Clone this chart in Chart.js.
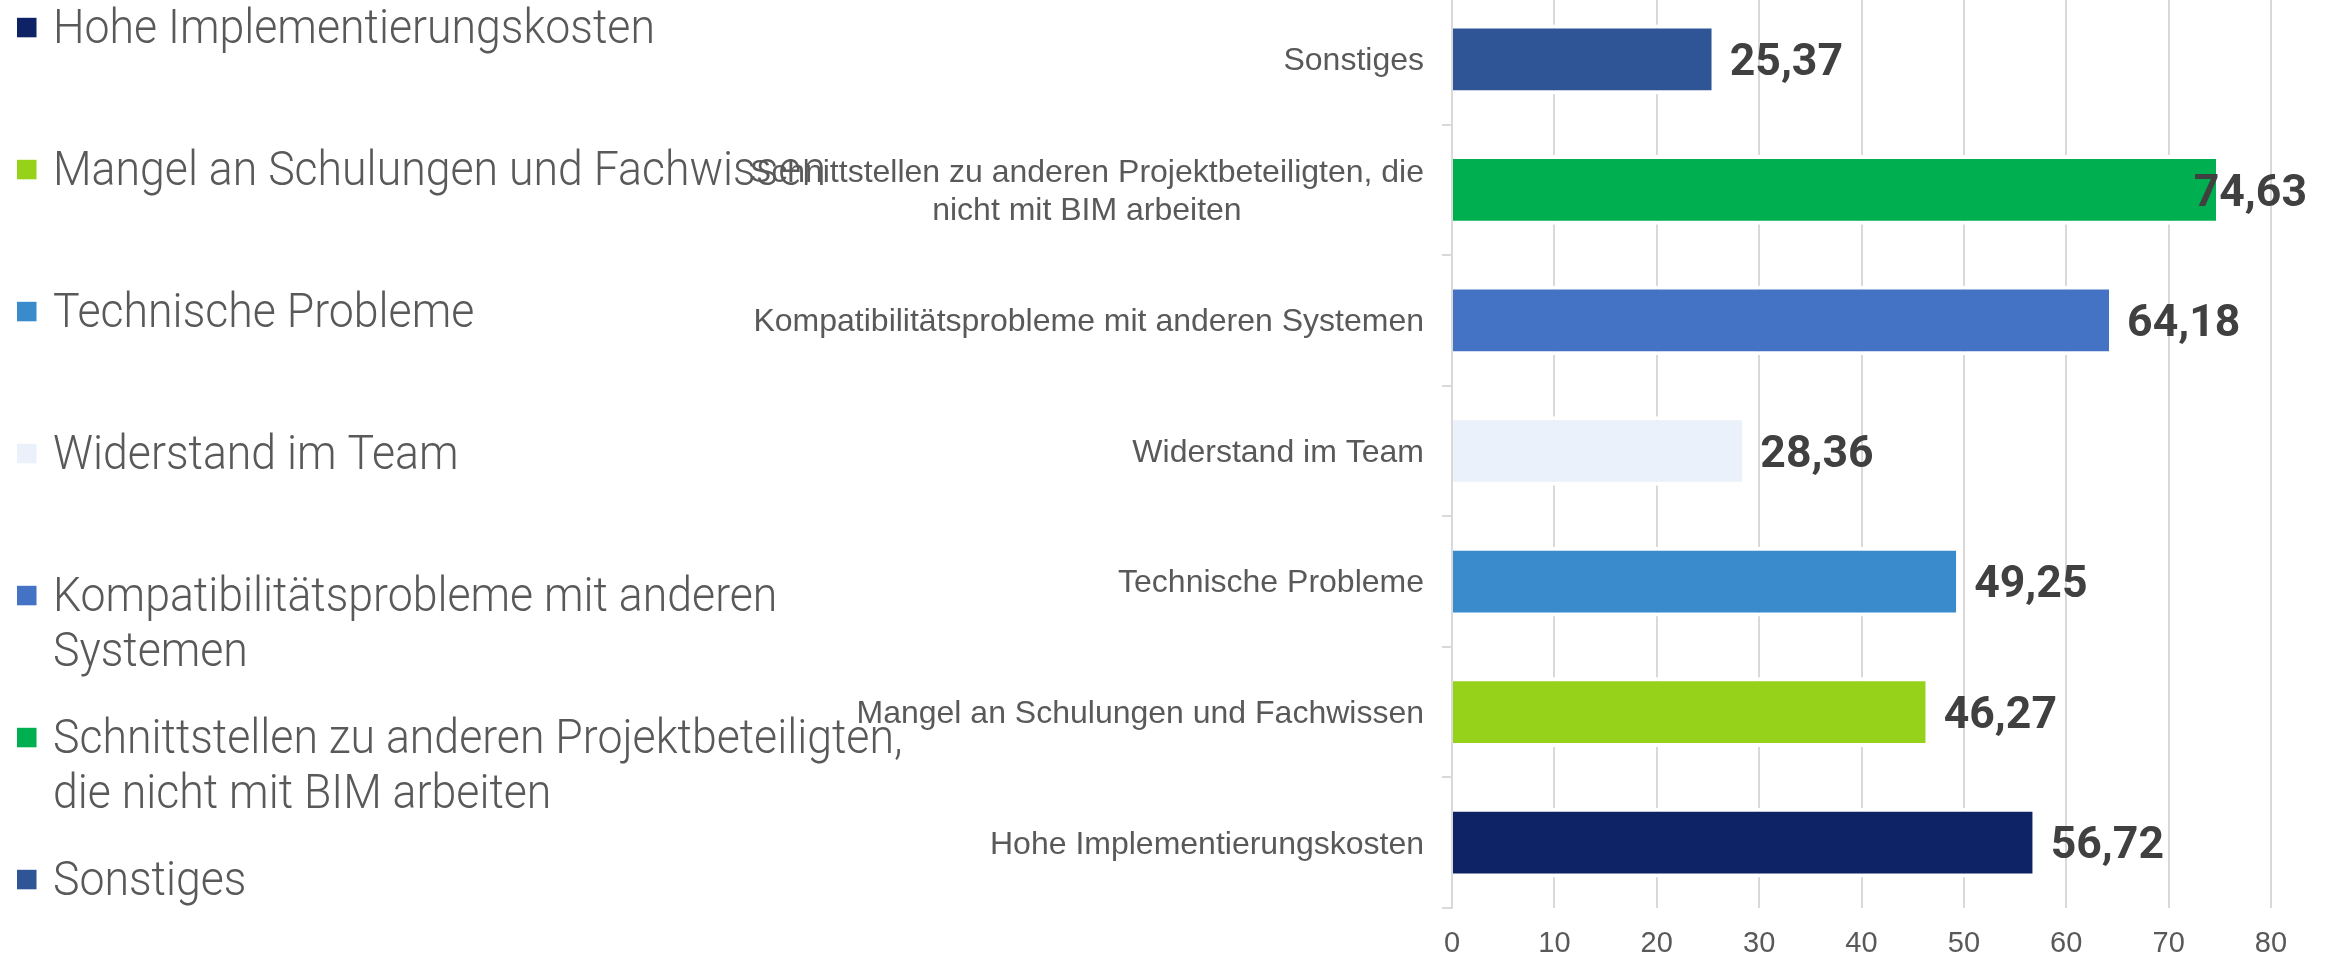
<!DOCTYPE html>
<html><head><meta charset="utf-8">
<script src="https://cdn.jsdelivr.net/npm/chart.js@4/dist/chart.umd.min.js"></script>
<style>
html,body{margin:0;padding:0;background:#fff;overflow:hidden;width:2329px;height:957px;}
#wrap{position:absolute;left:0;top:-6px;width:2329px;height:964px;}
</style></head><body>
<div id="wrap"><canvas id="c" width="2329" height="964"></canvas></div>
<script>
// ---- data ----
const categories = [
  'Sonstiges',
  'Schnittstellen zu anderen Projektbeteiligten, die nicht mit BIM arbeiten',
  'Kompatibilitätsprobleme mit anderen Systemen',
  'Widerstand im Team',
  'Technische Probleme',
  'Mangel an Schulungen und Fachwissen',
  'Hohe Implementierungskosten'
];
const categoryLines = [
  ['Sonstiges'],
  ['Schnittstellen zu anderen Projektbeteiligten, die', 'nicht mit BIM arbeiten'],
  ['Kompatibilitätsprobleme mit anderen Systemen'],
  ['Widerstand im Team'],
  ['Technische Probleme'],
  ['Mangel an Schulungen und Fachwissen'],
  ['Hohe Implementierungskosten']
];
const values = [25.37, 74.63, 64.18, 28.36, 49.25, 46.27, 56.72];
const barColors = ['#2F5597', '#00B050', '#4472C4', '#EAF1FA', '#3A8BCB', '#96D21A', '#0D2366'];
const legendOrder = [6, 5, 4, 3, 2, 1, 0];
const legendLines = [
  ['Hohe Implementierungskosten'],
  ['Mangel an Schulungen und Fachwissen'],
  ['Technische Probleme'],
  ['Widerstand im Team'],
  ['Kompatibilitätsprobleme mit anderen', 'Systemen'],
  ['Schnittstellen zu anderen Projektbeteiligten,', 'die nicht mit BIM arbeiten'],
  ['Sonstiges']
];
const xTicks = [0, 10, 20, 30, 40, 50, 60, 70, 80];

// ---- plugins ----
const categoryLabelPlugin = {
  id: 'categoryLabels',
  afterDraw(chart) {
    const ctx = chart.ctx, ys = chart.scales.y;
    ctx.save();
    ctx.font = '32px "Liberation Sans", Arial, sans-serif';
    ctx.fillStyle = '#595959';
    ctx.textBaseline = 'middle';
    ctx.textAlign = 'center';
    const right = ys.right - 28;
    categoryLines.forEach((lines, i) => {
      const yc = ys.getPixelForValue(i);
      const w = Math.max(...lines.map(l => ctx.measureText(l).width));
      const cx = right - w / 2;
      lines.forEach((l, j) => {
        ctx.fillText(l, cx, yc + 2 + (j - (lines.length - 1) / 2) * 38);
      });
    });
    ctx.restore();
  }
};
const valueLabelPlugin = {
  id: 'valueLabels',
  afterDatasetsDraw(chart) {
    const ctx = chart.ctx;
    const meta = chart.getDatasetMeta(0);
    ctx.save();
    ctx.font = 'bold 44.6px Roboto, "Liberation Sans", sans-serif';
    ctx.fillStyle = '#404040';
    ctx.textBaseline = 'middle';
    ctx.textAlign = 'left';
    meta.data.forEach((bar, i) => {
      const txt = values[i].toFixed(2).replace('.', ',');
      const w = ctx.measureText(txt).width;
      let x = bar.x + 18;
      if (x + w > chart.width - 22) x = chart.width - 22 - w;
      ctx.fillText(txt, x, bar.y + 4.5);
    });
    ctx.restore();
  }
};
const legendPlugin = {
  id: 'sideLegend',
  afterDraw(chart) {
    const ctx = chart.ctx;
    ctx.save();
    ctx.font = '300 48.5px Roboto, sans-serif';
    ctx.textBaseline = 'alphabetic';
    ctx.textAlign = 'left';
    legendOrder.forEach((ci, k) => {
      const base = 6 + 43.3 + 142 * k;
      ctx.fillStyle = barColors[ci];
      ctx.fillRect(17, base - 25.5, 19.5, 19.5);
      ctx.fillStyle = '#595959';
      legendLines[k].forEach((line, j) => {
        ctx.save();
        ctx.translate(53, base + j * 55);
        ctx.scale(0.92, 1);
        ctx.fillText(line, 0, 0);
        ctx.restore();
      });
    });
    ctx.restore();
  }
};

function draw() {
  new Chart(document.getElementById('c'), {
    type: 'bar',
    data: {
      labels: categories,
      datasets: [{
        data: values,
        backgroundColor: barColors,
        borderColor: '#ffffff',
        borderWidth: {top: 4, bottom: 4, left: 0, right: 0},
        borderSkipped: false,
        barPercentage: 0.534,
        categoryPercentage: 1
      }]
    },
    options: {
      indexAxis: 'y',
      responsive: false,
      animation: false,
      devicePixelRatio: 1,
      layout: {padding: {left: 0, right: 58, top: 0, bottom: 0}},
      scales: {
        x: {
          min: 0, max: 80,
          afterBuildTicks: s => { s.ticks = xTicks.map(v => ({value: v})); },
          ticks: {font: {family: '"Liberation Sans", Arial, sans-serif', size: 29}, color: '#595959', padding: 19},
          grid: {color: '#D9D9D9', lineWidth: 2, drawTicks: false},
          border: {display: false},
          afterFit: s => { s.height = 50; }
        },
        y: {
          z: 1,
          ticks: {display: false},
          grid: {display: true, drawOnChartArea: false, drawTicks: true, tickLength: 10, color: '#D9D9D9', lineWidth: 2, offset: true},
          border: {display: true, color: '#D9D9D9', width: 2},
          afterFit: s => { s.width = 1452; }
        }
      },
      plugins: {legend: {display: false}, tooltip: {enabled: false}}
    },
    plugins: [valueLabelPlugin, categoryLabelPlugin, legendPlugin]
  });
}
Promise.all([
  document.fonts.load('300 48px Roboto'),
  document.fonts.load('bold 44px Roboto'),
  document.fonts.load('32px "Liberation Sans"')
]).then(draw, draw);
</script>
</body></html>
